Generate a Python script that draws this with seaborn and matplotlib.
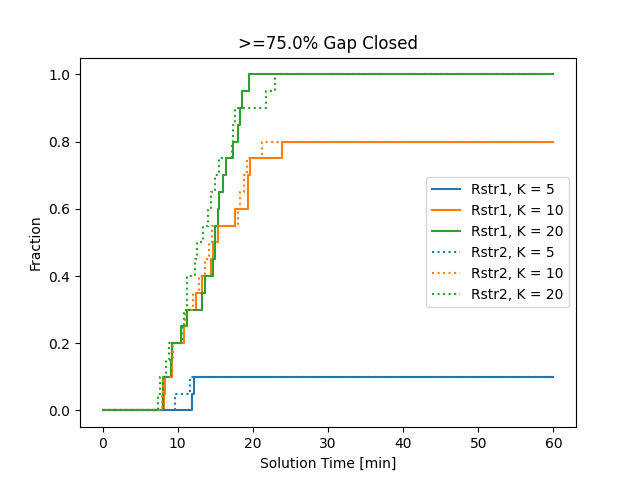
import matplotlib
matplotlib.use("Agg")
import matplotlib.pyplot as plt
import seaborn as sns
import numpy as np

# Solve times [min] at which each additional instance (1/20 each) reached >=75% gap closed
n_instances = 20
t_max = 60

rstr1_k5 = [11.9, 12.2]
rstr1_k10 = [8.2, 8.3, 9.2, 9.3, 10.8, 11.3, 12.5, 13.3, 14.4, 14.7, 15.4, 17.6,
             19.3, 19.4, 19.6, 23.9]
rstr1_k20 = [8.0, 8.1, 9.1, 9.3, 10.5, 11.2, 13.3, 13.6, 14.7, 14.9, 15.0, 15.3,
             15.5, 16.0, 16.4, 17.3, 18.0, 18.3, 18.5, 19.5]
rstr2_k5 = [9.6, 11.6]
rstr2_k10 = [7.9, 8.1, 9.2, 9.4, 10.9, 11.0, 12.0, 12.9, 13.6, 14.2, 14.5, 18.0,
             18.3, 18.8, 19.2, 21.2]
rstr2_k20 = [7.4, 7.7, 8.5, 8.8, 10.6, 10.8, 11.2, 11.3, 12.3, 12.6, 13.4, 14.0,
             14.4, 15.0, 15.5, 17.2, 17.4, 17.6, 21.7, 23.0]

labels = ["Rstr1, K = 5", "Rstr1, K = 10", "Rstr1, K = 20",
          "Rstr2, K = 5", "Rstr2, K = 10", "Rstr2, K = 20"]
series = [rstr1_k5, rstr1_k10, rstr1_k20, rstr2_k5, rstr2_k10, rstr2_k20]
colors = ["C0", "C1", "C2", "C0", "C1", "C2"]
styles = ["-", "-", "-", ":", ":", ":"]

fig, ax = plt.subplots(figsize=(6.4, 4.8), dpi=100)
for times, lab, col, ls in zip(series, labels, colors, styles):
    x = [0.0] + list(times) + [t_max]
    frac = [0.0] + [(i + 1) / n_instances for i in range(len(times))]
    y = frac + [frac[-1]]
    sns.lineplot(x=x, y=y, ax=ax, color=col, linestyle=ls, label=lab,
                 drawstyle="steps-post", estimator=None, sort=False, linewidth=1.5)

ax.set_title(">=75.0% Gap Closed")
ax.set_xlabel("Solution Time [min]")
ax.set_ylabel("Fraction")
ax.legend(loc="center right")
fig.savefig("out.png", dpi=100)
